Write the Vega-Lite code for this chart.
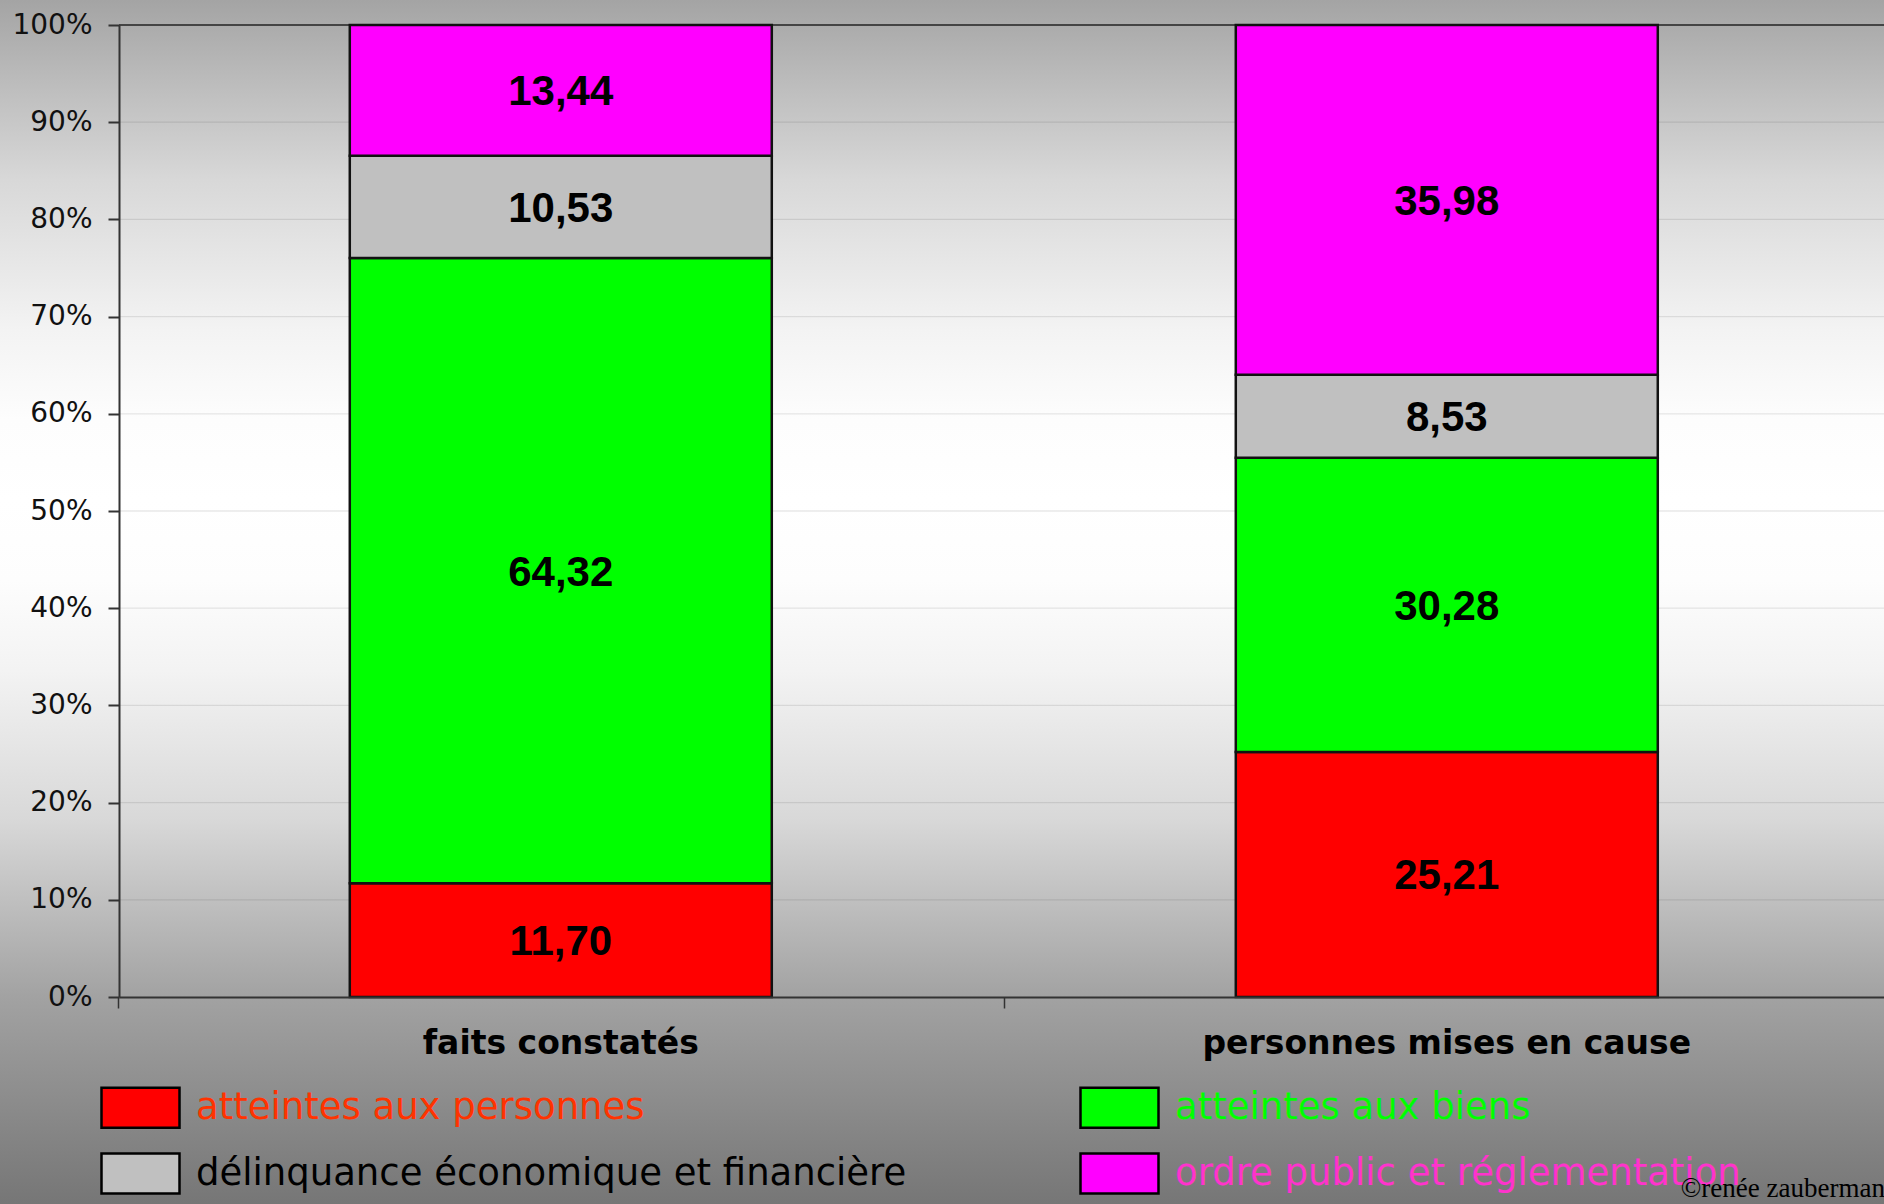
{
  "$schema": "https://vega.github.io/schema/vega-lite/v6.json",
  "width": 1765,
  "height": 972,
  "autosize": {"type": "none"},
  "padding": {"left": 119, "top": 25, "right": 0, "bottom": 207},
  "background": "#bbbbbb",
  "title": {
    "text": "©renée zauberman",
    "orient": "bottom",
    "anchor": "end",
    "font": "Liberation Serif",
    "fontSize": 27,
    "fontWeight": "normal",
    "color": "#000000",
    "offset": -28
  },
  "data": {
    "values": [
      {"cat": "faits constatés", "type": "atteintes aux personnes", "value": 11.70},
      {"cat": "faits constatés", "type": "atteintes aux biens", "value": 64.32},
      {"cat": "faits constatés", "type": "délinquance économique et financière", "value": 10.53},
      {"cat": "faits constatés", "type": "ordre public et réglementation", "value": 13.44},
      {"cat": "personnes mises en cause", "type": "atteintes aux personnes", "value": 25.21},
      {"cat": "personnes mises en cause", "type": "atteintes aux biens", "value": 30.28},
      {"cat": "personnes mises en cause", "type": "délinquance économique et financière", "value": 8.53},
      {"cat": "personnes mises en cause", "type": "ordre public et réglementation", "value": 35.98}
    ]
  },
  "layer": [
    {
      "data": {"values": [{}]},
      "mark": {
        "type": "rect",
        "fill": {
          "gradient": "linear",
          "x1": 0, "y1": 0, "x2": 0, "y2": 1,
          "stops": [
            {"offset": 0, "color": "#a4a4a4"},
            {"offset": 0.1495, "color": "#d8d8d8"},
            {"offset": 0.274, "color": "#f3f3f3"},
            {"offset": 0.349, "color": "#fdfdfd"},
            {"offset": 0.415, "color": "#ffffff"},
            {"offset": 0.482, "color": "#fdfdfd"},
            {"offset": 0.5565, "color": "#f3f3f3"},
            {"offset": 0.681, "color": "#d8d8d8"},
            {"offset": 0.828, "color": "#a2a2a2"},
            {"offset": 0.914, "color": "#8c8c8c"},
            {"offset": 1, "color": "#767676"}
          ]
        }
      },
      "encoding": {
        "x": {"datum": -0.0675, "type": "quantitative", "scale": {"domain": [0, 1]}, "axis": null},
        "x2": {"datum": 1},
        "y": {
          "datum": 1.02572, "type": "quantitative", "scale": {"domain": [0, 1], "nice": false},
          "axis": {"title": null, "values": [0, 0.1, 0.2, 0.3, 0.4, 0.5, 0.6, 0.7, 0.8, 0.9, 1], "format": "%", "grid": false, "zindex": 1, "domainColor": "#333333", "domainWidth": 2, "tickColor": "#333333", "tickWidth": 2, "tickSize": 11, "labelFont": "DejaVu Sans", "labelFontSize": 28, "labelColor": "#111111", "labelPadding": 16}
        },
        "y2": {"datum": -0.21296}
      }
    },
    {
      "data": {"values": [{"g": 0.1}, {"g": 0.2}, {"g": 0.3}, {"g": 0.4}, {"g": 0.5}, {"g": 0.6}, {"g": 0.7}, {"g": 0.8}, {"g": 0.9}]},
      "mark": {"type": "rule", "color": "#000000", "opacity": 0.09, "strokeWidth": 1.3},
      "encoding": {
        "y": {
          "field": "g", "type": "quantitative", "scale": {"domain": [0, 1], "nice": false},
          "axis": {"title": null, "values": [0, 0.1, 0.2, 0.3, 0.4, 0.5, 0.6, 0.7, 0.8, 0.9, 1], "format": "%", "grid": false, "zindex": 1, "domainColor": "#333333", "domainWidth": 2, "tickColor": "#333333", "tickWidth": 2, "tickSize": 11, "labelFont": "DejaVu Sans", "labelFontSize": 28, "labelColor": "#111111", "labelPadding": 16}
        }
      }
    },
    {
      "data": {"values": [{}]},
      "mark": {"type": "rule", "color": "#444444", "strokeWidth": 2},
      "encoding": {
        "y": {
          "datum": 1, "type": "quantitative", "scale": {"domain": [0, 1], "nice": false},
          "axis": {"title": null, "values": [0, 0.1, 0.2, 0.3, 0.4, 0.5, 0.6, 0.7, 0.8, 0.9, 1], "format": "%", "grid": false, "zindex": 1, "domainColor": "#333333", "domainWidth": 2, "tickColor": "#333333", "tickWidth": 2, "tickSize": 11, "labelFont": "DejaVu Sans", "labelFontSize": 28, "labelColor": "#111111", "labelPadding": 16}
        }
      }
    },
    {
      "transform": [
        {"calculate": "indexof(['atteintes aux personnes','atteintes aux biens','délinquance économique et financière','ordre public et réglementation'], datum.type)", "as": "k"},
        {"stack": "value", "groupby": ["cat"], "sort": [{"field": "k", "order": "ascending"}], "offset": "normalize", "as": ["y0", "y1"]},
        {"calculate": "(datum.y0 + datum.y1) / 2", "as": "mid"},
        {"calculate": "replace(format(datum.value, '.2f'), '.', ',')", "as": "label"}
      ],
      "layer": [
        {
          "mark": {"type": "bar", "stroke": "#111111", "strokeWidth": 2.5},
          "encoding": {
            "x": {
              "field": "cat",
              "type": "nominal",
              "sort": ["faits constatés", "personnes mises en cause"],
              "scale": {"paddingInner": 0.5237, "paddingOuter": 0.2579, "align": 0.505},
              "axis": {"title": null, "labelAngle": 0, "labelLimit": 1000, "zindex": 1, "domainColor": "#333333", "domainWidth": 2, "tickColor": "#333333", "tickWidth": 1.5, "tickSize": 11, "bandPosition": -0.547, "labelFont": "DejaVu Sans", "labelFontWeight": "bold", "labelFontSize": 33, "labelColor": "#000000", "labelPadding": 19}
            },
            "y": {
              "field": "y0",
              "type": "quantitative",
              "scale": {"domain": [0, 1], "nice": false},
              "axis": {"title": null, "values": [0, 0.1, 0.2, 0.3, 0.4, 0.5, 0.6, 0.7, 0.8, 0.9, 1], "format": "%", "grid": false, "zindex": 1, "domainColor": "#333333", "domainWidth": 2, "tickColor": "#333333", "tickWidth": 2, "tickSize": 11, "labelFont": "DejaVu Sans", "labelFontSize": 28, "labelColor": "#111111", "labelPadding": 16}
            },
            "y2": {"field": "y1"},
            "color": {
              "field": "type",
              "type": "nominal",
              "scale": {
                "domain": ["atteintes aux personnes", "délinquance économique et financière", "atteintes aux biens", "ordre public et réglementation"],
                "range": ["#ff0000", "#c0c0c0", "#00ff00", "#ff00ff"]
              },
              "legend": {
                "title": null,
                "orient": "none",
                "legendX": -19,
                "legendY": 1042,
                "columns": 2,
                "padding": 0,
                "symbolType": "M-1,-0.513H1V0.513H-1Z",
                "symbolSize": 6084,
                "symbolStrokeColor": "#000000",
                "symbolStrokeWidth": 2.5,
                "symbolOpacity": 1,
                "labelFont": "DejaVu Sans",
                "labelFontSize": 37,
                "labelLimit": 1000,
                "labelOffset": 15,
                "columnPadding": 168,
                "rowPadding": -19,
                "encode": {
                  "labels": {
                    "update": {
                      "fill": {"signal": "datum.value === 'atteintes aux personnes' ? '#ff3300' : datum.value === 'atteintes aux biens' ? '#00ff00' : datum.value === 'ordre public et réglementation' ? '#ff33cc' : '#000000'"}
                    }
                  },
                  "symbols": {
                    "update": {
                      "stroke": {"value": "#000000"},
                      "strokeWidth": {"value": 2.5}
                    }
                  }
                }
              }
            }
          }
        },
        {
          "mark": {"type": "text", "font": "Liberation Sans", "fontWeight": "bold", "fontSize": 42, "color": "#000000", "baseline": "middle", "dy": 2},
          "encoding": {
            "x": {
              "field": "cat", "type": "nominal", "sort": ["faits constatés", "personnes mises en cause"],
              "scale": {"paddingInner": 0.5237, "paddingOuter": 0.2579, "align": 0.505},
              "axis": {"title": null, "labelAngle": 0, "labelLimit": 1000, "zindex": 1, "domainColor": "#333333", "domainWidth": 2, "tickColor": "#333333", "tickWidth": 1.5, "tickSize": 11, "bandPosition": -0.547, "labelFont": "DejaVu Sans", "labelFontWeight": "bold", "labelFontSize": 33, "labelColor": "#000000", "labelPadding": 19}
            },
            "y": {
              "field": "mid", "type": "quantitative", "scale": {"domain": [0, 1], "nice": false},
              "axis": {"title": null, "values": [0, 0.1, 0.2, 0.3, 0.4, 0.5, 0.6, 0.7, 0.8, 0.9, 1], "format": "%", "grid": false, "zindex": 1, "domainColor": "#333333", "domainWidth": 2, "tickColor": "#333333", "tickWidth": 2, "tickSize": 11, "labelFont": "DejaVu Sans", "labelFontSize": 28, "labelColor": "#111111", "labelPadding": 16}
            },
            "text": {"field": "label"}
          }
        }
      ]
    }
  ],
  "resolve": {"scale": {"x": "independent"}},
  "config": {
    "view": {"stroke": null},
    "font": "DejaVu Sans"
  }
}
